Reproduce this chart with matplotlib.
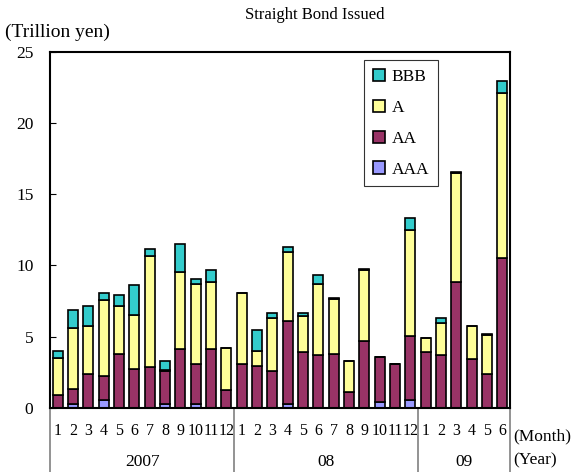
import matplotlib.pyplot as plt
import numpy as np

plt.rcParams['font.family'] = ['Liberation Serif', 'DejaVu Serif']

# Data (trillion yen), 2007-01 .. 2009-06
months = [str(m) for m in range(1, 13)] * 2 + [str(m) for m in range(1, 7)]
years = ["2007", "08", "09"]
year_len = [12, 12, 6]

aaa = [0.0, 0.3, 0.0, 0.54, 0.0, 0.0, 0.0, 0.3, 0.0, 0.28, 0.0, 0.0,
       0.0, 0.0, 0.0, 0.3, 0.0, 0.0, 0.0, 0.0, 0.0, 0.42, 0.0, 0.54,
       0.0, 0.0, 0.0, 0.0, 0.0, 0.0]
aa = [0.87, 1.03, 2.39, 1.68, 3.79, 2.74, 2.86, 2.27, 4.1, 2.81, 4.1, 1.22,
      3.11, 2.97, 2.62, 5.79, 3.91, 3.68, 3.79, 1.1, 4.68, 3.14, 3.09, 4.49,
      3.91, 3.68, 8.85, 3.44, 2.39, 10.49]
a = [2.63, 4.27, 3.34, 5.32, 3.35, 3.79, 7.79, 0.1, 5.43, 5.64, 4.72, 2.99,
     4.92, 1.01, 3.68, 4.84, 2.53, 5.05, 3.82, 2.22, 4.99, 0.0, 0.0, 7.49,
     1.01, 2.29, 7.65, 2.29, 2.69, 11.63]
bbb = [0.48, 1.3, 1.41, 0.49, 0.77, 2.08, 0.52, 0.61, 1.96, 0.35, 0.85, 0.0,
       0.0, 1.52, 0.37, 0.38, 0.23, 0.59, 0.11, 0.0, 0.09, 0.0, 0.0, 0.82,
       0.0, 0.35, 0.07, 0.0, 0.07, 0.82]

x = np.arange(len(months))
w = 0.65

fig = plt.figure(figsize=(5.83, 4.72), dpi=100)
ax = fig.add_axes([0.086, 0.136, 0.789, 0.754])

b1 = ax.bar(x, aaa, w, color='#9999FF', edgecolor='black', linewidth=1.2, label='AAA')
bot = np.array(aaa)
b2 = ax.bar(x, aa, w, bottom=bot, color='#993366', edgecolor='black', linewidth=1.2, label='AA')
bot = bot + np.array(aa)
b3 = ax.bar(x, a, w, bottom=bot, color='#FFFF99', edgecolor='black', linewidth=1.2, label='A')
bot = bot + np.array(a)
b4 = ax.bar(x, bbb, w, bottom=bot, color='#33CCCC', edgecolor='black', linewidth=1.2, label='BBB')

ax.set_xlim(-0.5, len(months) - 0.5)
ax.set_ylim(0, 25)
ax.set_yticks([0, 5, 10, 15, 20, 25])
ax.tick_params(axis='y', direction='in', length=4, labelsize=12.5, pad=12)
for s in ax.spines.values():
    s.set_linewidth(1.5)

ax.set_xticks(x)
ax.set_xticklabels(months, fontsize=11.5)
ax.tick_params(axis='x', length=0, pad=11)

# year separators and labels
trans = ax.get_xaxis_transform()
edges = np.concatenate([[0], np.cumsum(year_len)]) - 0.5
for e in edges:
    ax.plot([e, e], [0, -0.185], transform=trans, color='grey', lw=1.2, clip_on=False)
for i, yr in enumerate(years):
    ax.text((edges[i] + edges[i + 1]) / 2, -0.152, yr, transform=trans,
            ha='center', va='center', fontsize=12.5)

ax.text(1.006, -0.08, "(Month)", transform=ax.transAxes, ha='left', va='center', fontsize=12.5)
ax.text(1.006, -0.148, "(Year)", transform=ax.transAxes, ha='left', va='center', fontsize=12.5)

fig.text(0.54, 0.968, "Straight Bond Issued", ha='center', va='center', fontsize=12)
fig.text(0.008, 0.932, "(Trillion yen)", ha='left', va='center', fontsize=14)

leg = ax.legend(handles=[b4, b3, b2, b1], loc='upper left',
                bbox_to_anchor=(364 / 583, 1 - 60 / 472), bbox_transform=fig.transFigure,
                fontsize=12.5, frameon=True, fancybox=False, handlelength=0.7,
                handleheight=0.7, labelspacing=0.85, borderpad=0.5, handletextpad=0.4,
                borderaxespad=0)
leg.get_frame().set_edgecolor('black')
leg.get_frame().set_linewidth(0.8)

fig.savefig("out.png", dpi=100)
